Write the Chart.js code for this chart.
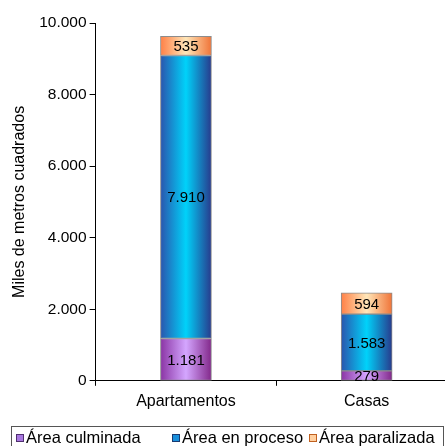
<!DOCTYPE html>
<html>
<head>
<meta charset="utf-8">
<script src="https://cdn.jsdelivr.net/npm/chart.js@4/dist/chart.umd.min.js"></script>
<style>
  html, body { margin: 0; padding: 0; background: #fff; overflow: hidden; }
  #wrap { width: 457px; height: 446px; }
</style>
</head>
<body>
<div id="wrap"><canvas id="grafico"></canvas></div>
<script>
// Superficie por tipo de obra (miles de m2)
const categorias = ['Apartamentos', 'Casas'];
const areaCulminada = [1181, 279];
const areaEnProceso = [7910, 1583];
const areaParalizada = [535, 594];
const ticksY = [0, 2000, 4000, 6000, 8000, 10000];
const seriesLeyenda = ['Área culminada', 'Área en proceso', 'Área paralizada'];

// bordes y centro de cada relleno degradado
const tonos = [
    { left: '#8a34a4', mid: '#d4a6ff', right: '#82288a', legend: '#a878e0', edge: '#503070' },
    { left: '#2a55ad', mid: '#00d2fa', right: '#283a8c', legend: '#1a90dc', edge: '#1a3a70' },
    { left: '#ff8046', mid: '#ffe6b8', right: '#f07438', legend: '#ffd0a0', edge: '#c06020' }
];

const FONT = "'Liberation Sans', Arial, sans-serif";
const ANCHO_BARRA = 51;

function fmt(n) {
    return String(n).replace(/\B(?=(\d{3})+(?!\d))/g, '.');
}

function serie(label, valores, idx) {
    return {
        label: label,
        data: valores,
        backgroundColor: tonos[idx].mid,
        borderColor: '#8c8c8c',
        borderWidth: 1,
        borderSkipped: false,
        barThickness: ANCHO_BARRA
    };
}

// relleno horizontal oscuro-claro-oscuro, calculado con la posicion real de cada barra
const degradados = {
    id: 'degradados',
    beforeDatasetsDraw(chart) {
        const ctx = chart.ctx;
        chart.data.datasets.forEach((ds, d) => {
            const t = tonos[d];
            chart.getDatasetMeta(d).data.forEach((bar) => {
                const half = bar.width / 2;
                const g = ctx.createLinearGradient(bar.x - half, 0, bar.x + half, 0);
                g.addColorStop(0, t.left);
                g.addColorStop(0.5, t.mid);
                g.addColorStop(1, t.right);
                bar.options = Object.assign({}, bar.options, { backgroundColor: g });
            });
        });
    }
};

// valores dentro de cada segmento
const etiquetas = {
    id: 'etiquetas',
    afterDatasetsDraw(chart) {
        const ctx = chart.ctx;
        ctx.save();
        ctx.font = '15px ' + FONT;
        ctx.fillStyle = '#000';
        ctx.textAlign = 'center';
        ctx.textBaseline = 'middle';
        chart.data.datasets.forEach((ds, d) => {
            chart.getDatasetMeta(d).data.forEach((bar, i) => {
                const y = (bar.y + bar.base) / 2;
                ctx.fillText(fmt(ds.data[i]), bar.x, y + 1);
            });
        });
        ctx.restore();
    }
};

// leyenda con marco
const leyenda = {
    id: 'leyenda',
    afterDraw(chart) {
        const ctx = chart.ctx;
        ctx.save();
        ctx.strokeStyle = '#555';
        ctx.lineWidth = 1;
        ctx.strokeRect(11.5, 426.5, 432, 30);
        ctx.font = '16.5px ' + FONT;
        ctx.textBaseline = 'middle';
        const xs = [16, 172, 309];
        seriesLeyenda.forEach((txt, i) => {
            const x = xs[i];
            ctx.fillStyle = tonos[i].legend;
            ctx.fillRect(x + 0.5, 434.5, 7, 7);
            ctx.strokeStyle = tonos[i].edge;
            ctx.strokeRect(x + 0.5, 434.5, 7, 7);
            ctx.fillStyle = '#000';
            ctx.fillText(txt, x + 10, 438);
        });
        ctx.restore();
    }
};

new Chart(document.getElementById('grafico'), {
    type: 'bar',
    data: {
        labels: categorias,
        datasets: [
            serie(seriesLeyenda[0], areaCulminada, 0),
            serie(seriesLeyenda[1], areaEnProceso, 1),
            serie(seriesLeyenda[2], areaParalizada, 2)
        ]
    },
    options: {
        responsive: true,
        maintainAspectRatio: false,
        animation: false,
        layout: { padding: { top: 23, right: 0, bottom: 29, left: 10 } },
        plugins: {
            legend: { display: false },
            tooltip: { enabled: false }
        },
        scales: {
            x: {
                stacked: true,
                grid: {
                    offset: true,
                    drawOnChartArea: false,
                    color: '#000',
                    tickLength: 5
                },
                border: { color: '#000', width: 1 },
                ticks: {
                    color: '#000',
                    font: { family: FONT, size: 16 },
                    padding: 6,
                    maxRotation: 0
                }
            },
            y: {
                stacked: true,
                min: 0,
                max: 10000,
                afterBuildTicks: (scale) => {
                    scale.ticks = ticksY.map(v => ({ value: v }));
                },
                grid: {
                    drawOnChartArea: false,
                    color: '#000',
                    tickLength: 6
                },
                border: { color: '#000', width: 1 },
                ticks: {
                    color: '#000',
                    font: { family: FONT, size: 15.5 },
                    padding: 3,
                    callback: (v) => fmt(v)
                },
                title: {
                    display: true,
                    text: 'Miles de metros cuadrados',
                    color: '#000',
                    font: { family: FONT, size: 16 },
                    padding: { top: 0, bottom: 7 }
                }
            }
        }
    },
    plugins: [degradados, etiquetas, leyenda]
});
</script>
</body>
</html>
